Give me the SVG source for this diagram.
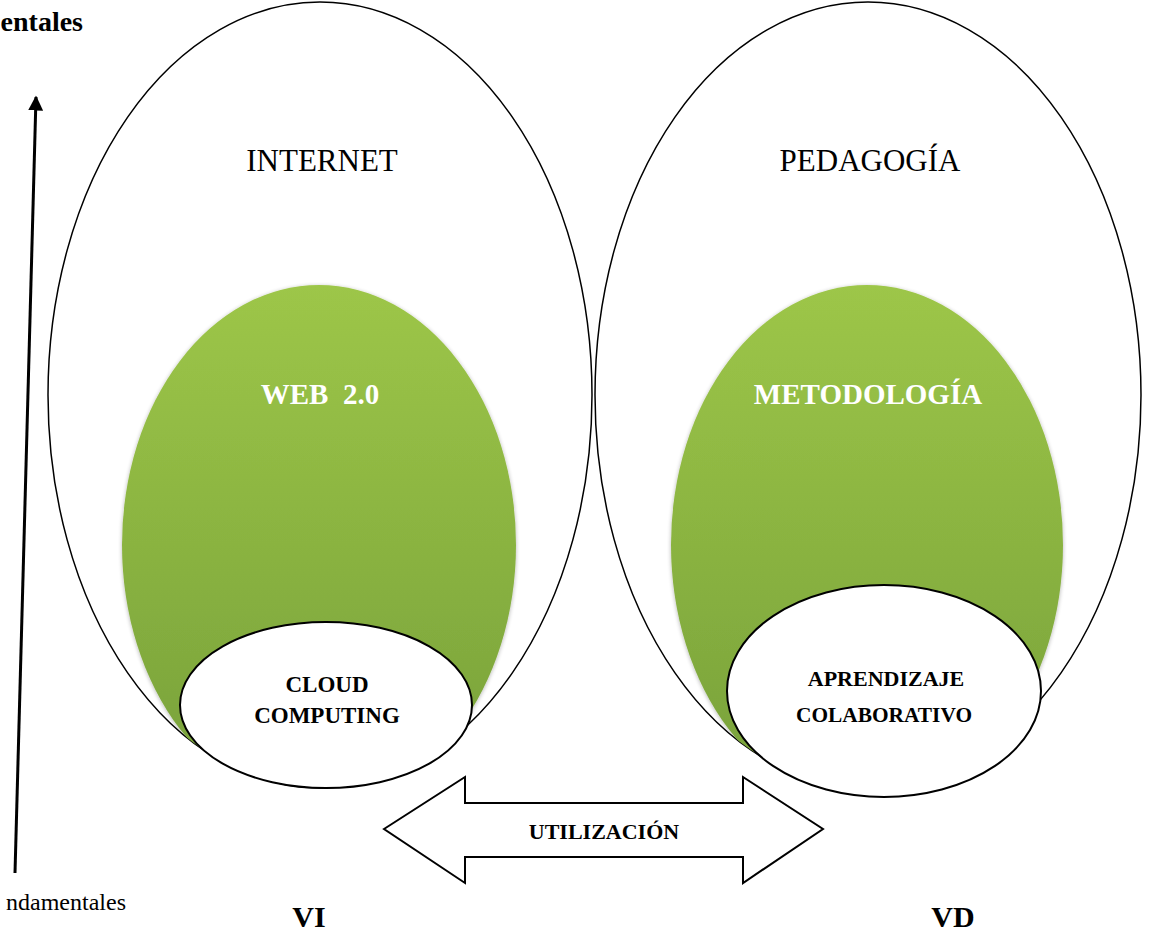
<svg xmlns="http://www.w3.org/2000/svg" width="1151" height="933" viewBox="0 0 1151 933">
<style>
.big{fill:none;stroke:#000;stroke-width:1.5}
.wh{fill:#fff;stroke:#000;stroke-width:2}
.t{font-family:"Liberation Serif",serif;fill:#000}
.b{font-weight:bold}
.w{fill:#fff;font-weight:bold}
</style>
<defs>
<linearGradient id="g" x1="0" y1="0" x2="0" y2="1">
<stop offset="0" stop-color="#9dc648"/>
<stop offset="1" stop-color="#77a03a"/>
</linearGradient>
<clipPath id="cl"><ellipse cx="320" cy="395" rx="272" ry="393"/></clipPath>
<clipPath id="cr"><ellipse cx="868" cy="395" rx="273" ry="393"/></clipPath>
<marker id="ah" viewBox="0 0 10 10" refX="9" refY="5" markerWidth="5" markerHeight="5" orient="auto">
<path d="M0,0 L10,5 L0,10 z" fill="#000"/>
</marker>
<filter id="sh" x="-5%" y="-5%" width="110%" height="110%">
<feGaussianBlur in="SourceAlpha" stdDeviation="2"/>
<feOffset dx="0" dy="1"/>
<feComponentTransfer><feFuncA type="linear" slope="0.3"/></feComponentTransfer>
<feMerge><feMergeNode/><feMergeNode in="SourceGraphic"/></feMerge>
</filter>
</defs>
<rect width="1151" height="933" fill="#fff"/>
<text class="t b" x="83" y="31" font-size="28" text-anchor="end">entales</text>
<text class="t" x="126" y="910" font-size="24" text-anchor="end">ndamentales</text>
<g id="left">
<ellipse class="big" cx="320" cy="395" rx="272" ry="393"/>
<text class="t" x="322" y="171" font-size="31" text-anchor="middle">INTERNET</text>
</g>
<g id="right">
<ellipse class="big" cx="868" cy="395" rx="273" ry="393"/>
<text class="t" x="870" y="171" font-size="31" text-anchor="middle">PEDAGOGÍA</text>
</g>
<g id="web">
<g clip-path="url(#cl)"><ellipse cx="319" cy="545" rx="197" ry="260" fill="url(#g)" filter="url(#sh)"/></g>
<text class="t w" x="320" y="404" font-size="29" text-anchor="middle" xml:space="preserve">WEB  2.0</text>
</g>
<g id="metodologia">
<g clip-path="url(#cr)"><ellipse cx="867" cy="545" rx="196" ry="260" fill="url(#g)" filter="url(#sh)"/></g>
<text class="t w" x="868" y="404" font-size="29" text-anchor="middle">METODOLOGÍA</text>
</g>
<g id="cloud">
<ellipse class="wh" cx="326" cy="705" rx="146" ry="83"/>
<text class="t b" x="327" y="692" font-size="23" text-anchor="middle">CLOUD</text>
<text class="t b" x="327" y="723" font-size="23" text-anchor="middle">COMPUTING</text>
</g>
<g id="aprendizaje">
<ellipse class="wh" cx="884" cy="691" rx="157" ry="106"/>
<text class="t b" x="886" y="686" font-size="22" text-anchor="middle">APRENDIZAJE</text>
<text class="t b" x="884" y="722" font-size="22" text-anchor="middle" textLength="176" lengthAdjust="spacingAndGlyphs">COLABORATIVO</text>
</g>
<g id="connectors">
<line x1="15" y1="873" x2="36" y2="97" stroke="#000" stroke-width="3" marker-end="url(#ah)"/>
<path d="M384,829 L465,777 L465,803 L743,803 L743,777 L823,829 L743,883 L743,857 L465,857 L465,883 Z" fill="#fff" stroke="#000" stroke-width="2"/>
<text class="t b" x="604" y="839" font-size="22" text-anchor="middle">UTILIZACIÓN</text>
</g>
<text class="t b" x="309" y="927" font-size="30" text-anchor="middle">VI</text>
<text class="t b" x="953" y="927" font-size="30" text-anchor="middle">VD</text>
</svg>
